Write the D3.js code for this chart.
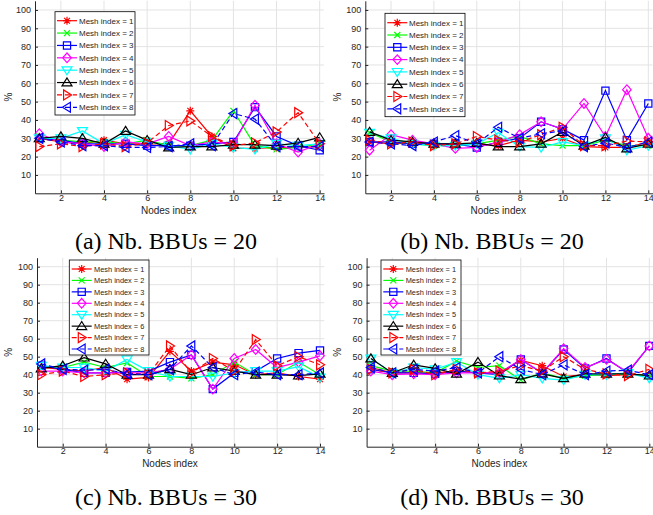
<!DOCTYPE html>
<html>
<head>
<meta charset="utf-8">
<script src="https://cdn.jsdelivr.net/npm/d3@7"></script>
<style>
  body { margin: 0; background: #fff; }
  svg { display: block; }
  text { font-family: "Liberation Sans", Arial, sans-serif; fill: #262626; }
</style>
</head>
<body>
<svg id="chart" width="653" height="515"></svg>
<script>
//Node index on the x axis
var nodes = [1, 2, 3, 4, 5, 6, 7, 8, 9, 10, 11, 12, 13, 14];
var xTicks = [2, 4, 6, 8, 10, 12, 14];
var yTicks = [10, 20, 30, 40, 50, 60, 70, 80, 90, 100];

var legendLabels = ["Mesh index = 1", "Mesh index = 2", "Mesh index = 3", "Mesh index = 4",
                    "Mesh index = 5", "Mesh index = 6", "Mesh index = 7", "Mesh index = 8"];
var captions = ["(a) Nb. BBUs = 20", "(b) Nb. BBUs = 20", "(c) Nb. BBUs = 30", "(d) Nb. BBUs = 30"];

//One row per mesh index, values in %
var seriesA = [
  [30, 28, 27, 29, 27, 27, 27, 45, 31, 24.5, 24.5, 25, 25, 25.5],
  [31, 29, 28, 28, 27, 29, 26, 26, 29, 45, 26, 24, 25, 27],
  [30, 29, 27, 27, 27, 26, 26, 26, 27, 28, 47, 31, 26, 23.5],
  [32.5, 28, 27, 25.5, 28, 27, 31, 26, 28, 27, 48, 27, 22.5, 27],
  [30, 30, 34, 27, 32, 28, 26, 24, 27, 25, 24, 27, 26, 27],
  [30, 31, 30, 27, 34, 29, 25, 25.5, 25.5, 26.5, 26.5, 26, 27.5, 30.5],
  [25.5, 27, 25.5, 27, 25.5, 27.5, 37, 39.5, 31, 26, 27.5, 33.5, 44, 27],
  [30, 28, 26, 26, 25, 25, 25.5, 27, 26, 43.5, 40.5, 25.5, 25.5, 25.5]
];
var seriesB = [
  [28, 27, 27.5, 26, 26.5, 27, 26, 29, 28, 30, 25.5, 25, 25, 28],
  [33, 28, 27, 26, 26, 27, 29, 31, 27, 26, 26, 29, 26, 26],
  [28, 28, 27, 27, 27, 25, 28, 30, 39, 35, 29, 56, 29, 49],
  [23.5, 32, 29, 27, 24.5, 25, 28, 32, 39, 35, 49, 31, 56.5, 30],
  [33, 30, 27, 26, 26, 27, 33, 25.5, 25, 28, 26, 30, 23.5, 26],
  [33.5, 29, 28, 27, 27, 27.5, 25.5, 25.5, 27, 33.5, 26, 30.5, 24.5, 27],
  [29, 27, 28, 26, 27, 31, 29, 28, 32, 36, 26, 26, 28.5, 28],
  [28, 27, 26, 28, 31.5, 27, 36, 30, 32.5, 34, 25.5, 27.5, 25, 28]
];
var seriesC = [
  [44, 43, 42, 44, 37.5, 38.5, 53, 42, 47, 45.5, 40, 41, 39, 37.5],
  [44, 44, 47, 44, 46.5, 39, 39, 38, 40, 47, 40, 40, 47, 40],
  [45, 43, 41, 41, 41.5, 42, 47, 51, 32, 41, 42, 49, 52, 53.5],
  [42, 42, 41, 41, 41, 41, 43, 51, 32, 49, 54, 44, 47, 50.5],
  [45, 44, 44, 42, 48.5, 42, 39, 39, 39, 41, 42, 42, 44.5, 38.5],
  [43.5, 45, 49.5, 46, 40, 40, 43, 40, 44, 42, 40, 40, 39.5, 40.5],
  [40, 42, 39, 40, 41, 40, 56, 41, 49, 42, 59.5, 45, 50, 45.5],
  [46, 43, 42.5, 43, 40.5, 40, 43, 56, 44, 40, 41.5, 40, 40, 41]
];
var seriesD = [
  [44, 41, 41, 41, 42, 41, 41, 48, 45, 39, 40, 39.5, 40, 40],
  [45, 42, 42, 41, 47.5, 44, 45, 37, 41, 38, 39.5, 40, 40.5, 39.5],
  [43, 41, 41, 40.5, 42, 41, 40, 48.5, 41, 54, 43.5, 49, 41, 56],
  [42, 40, 40.5, 40, 41, 41, 41, 48.5, 41, 54.5, 44, 48.5, 41.5, 56],
  [49, 41, 44, 43, 47, 40, 38, 40, 38, 37, 40, 40, 41, 38],
  [49, 41, 45.5, 43.5, 40.5, 47, 39.5, 37.5, 40.5, 38, 40.5, 40.5, 40.5, 39.5],
  [43, 41, 43, 40, 43, 41, 42, 45, 42, 50, 43, 40.5, 39.5, 43],
  [44, 41, 43, 42, 44, 41, 50, 43, 40, 45.5, 40, 42, 42.5, 40]
];

//Line styles for each mesh index
var colors = ["#ff0000", "#00ff00", "#0000ff", "#ff00ff", "#00ffff", "#000000", "#ff0000", "#0000ff"];
var dashes = [null, null, null, null, null, null, "5,3", "5,3"];
var markers = ["asterisk", "cross", "square", "diamond", "down", "up", "right", "left"];

//Marker outlines centered on 0,0
var markerPaths = {
  asterisk: "M-4,0H4M0,-4V4M-2.9,-2.9L2.9,2.9M-2.9,2.9L2.9,-2.9",
  cross: "M-3,-3L3,3M-3,3L3,-3",
  square: "M-3.6,-3.6H3.6V3.6H-3.6Z",
  diamond: "M0,-4.8L4.3,0L0,4.8L-4.3,0Z",
  down: "M0,4.6L5,-3.4L-5,-3.4Z",
  up: "M0,-4.6L5,3.4L-5,3.4Z",
  right: "M4.6,0L-3.4,5L-3.4,-5Z",
  left: "M-4.6,0L3.4,5L3.4,-5Z"
};

//Panel placement
var panels = [
  { data: seriesA, caption: captions[0], left: 35, right: 324, top: 0.8, bottom: 193.3,
    capX: 166, capY: 249, labX: 8, legend: { x: 55, y: 11.7, w: 80, h: 103.3, row0: 20.7, dy: 12.37, l0: 57, l1: 77, tx: 79, fs: 8 } },
  { data: seriesB, caption: captions[1], left: 365.3, right: 652.6, top: 0.8, bottom: 193.3,
    capX: 492, capY: 249, labX: 337, legend: { x: 385, y: 13.3, w: 80, h: 103.4, row0: 22.7, dy: 12.3, l0: 387.3, l1: 407.3, tx: 409, fs: 8 } },
  { data: seriesC, caption: captions[2], left: 37, right: 324.3, top: 257.7, bottom: 446.7,
    capX: 166, capY: 505, labX: 8, legend: { x: 69.3, y: 260, w: 79.7, h: 95, row0: 269, dy: 11.43, l0: 71.7, l1: 91.7, tx: 94, fs: 7.4 } },
  { data: seriesD, caption: captions[3], left: 366.6, right: 653.6, top: 257.7, bottom: 446.7,
    capX: 492, capY: 505, labX: 337, legend: { x: 381, y: 260, w: 80, h: 95, row0: 269, dy: 11.43, l0: 383.3, l1: 403.3, tx: 405.7, fs: 7.4 } }
];

var svg = d3.select("#chart");

function drawPanel(p) {
  var x = d3.scaleLinear().domain([0.8, 14.2]).range([p.left, p.right]);
  var y = d3.scaleLinear().domain([0, 105]).range([p.bottom, p.top]);
  var g = svg.append("g");

  //Grid lines
  g.append("g").selectAll("line.gx").data(xTicks).enter().append("line")
    .attr("x1", d => x(d)).attr("x2", d => x(d))
    .attr("y1", p.top).attr("y2", p.bottom)
    .attr("stroke", "#e3e3e3").attr("stroke-width", 1);
  g.append("g").selectAll("line.gy").data(yTicks).enter().append("line")
    .attr("x1", p.left).attr("x2", p.right)
    .attr("y1", d => y(d)).attr("y2", d => y(d))
    .attr("stroke", "#e3e3e3").attr("stroke-width", 1);

  //Axes
  var xAxis = g.append("g").attr("transform", "translate(0," + p.bottom + ")")
    .call(d3.axisBottom(x).tickValues(xTicks).tickSize(-3).tickPadding(1).tickSizeOuter(0));
  var yAxis = g.append("g").attr("transform", "translate(" + p.left + ",0)")
    .call(d3.axisLeft(y).tickValues(yTicks).tickSize(-3).tickPadding(4).tickSizeOuter(0));
  [xAxis, yAxis].forEach(function(a) {
    a.select(".domain").attr("stroke", "#262626");
    a.selectAll(".tick line").attr("stroke", "#262626");
    a.selectAll(".tick text").attr("font-size", 9)
      .attr("font-family", "'Liberation Sans', Arial, sans-serif").attr("fill", "#262626");
  });

  //Series lines and markers
  var line = d3.line().x((d, i) => x(nodes[i])).y(d => y(d));
  p.data.forEach(function(vals, s) {
    g.append("path").datum(vals)
      .attr("d", line).attr("fill", "none")
      .attr("stroke", colors[s]).attr("stroke-width", 1.2)
      .attr("stroke-dasharray", dashes[s]);
    g.append("g").selectAll("path").data(vals).enter().append("path")
      .attr("d", markerPaths[markers[s]])
      .attr("transform", (d, i) => "translate(" + x(nodes[i]) + "," + y(d) + ")")
      .attr("fill", "none").attr("stroke", colors[s]).attr("stroke-width", 1.2);
  });

  //Axis titles
  g.append("text").attr("x", x(7)).attr("y", p.bottom + 20.5)
    .attr("text-anchor", "middle").attr("font-size", 10).text("Nodes index");
  g.append("text").attr("transform", "translate(" + (p.labX + 3.5) + "," + ((p.top + p.bottom) / 2) + ") rotate(-90)")
    .attr("text-anchor", "middle").attr("font-size", 10).text("%");

  //Legend
  var L = p.legend;
  g.append("rect").attr("x", L.x).attr("y", L.y).attr("width", L.w).attr("height", L.h)
    .attr("fill", "#fff").attr("stroke", "#000").attr("stroke-width", 0.8);
  legendLabels.forEach(function(lab, s) {
    var ly = L.row0 + s * L.dy;
    g.append("line").attr("x1", L.l0).attr("x2", L.l1).attr("y1", ly).attr("y2", ly)
      .attr("stroke", colors[s]).attr("stroke-width", 1.2).attr("stroke-dasharray", dashes[s]);
    g.append("path").attr("d", markerPaths[markers[s]])
      .attr("transform", "translate(" + ((L.l0 + L.l1) / 2) + "," + ly + ")")
      .attr("fill", "none").attr("stroke", colors[s]).attr("stroke-width", 1.2);
    g.append("text").attr("x", L.tx).attr("y", ly + L.fs * 0.36)
      .attr("font-size", L.fs).attr("fill", "#000").text(lab);
  });

  //Caption
  svg.append("text").attr("x", p.capX).attr("y", p.capY)
    .attr("text-anchor", "middle").attr("font-size", 24)
    .style("font-family", "'Liberation Serif', 'Times New Roman', serif").style("fill", "#000")
    .text(p.caption);
}

panels.forEach(drawPanel);
</script>
</body>
</html>
